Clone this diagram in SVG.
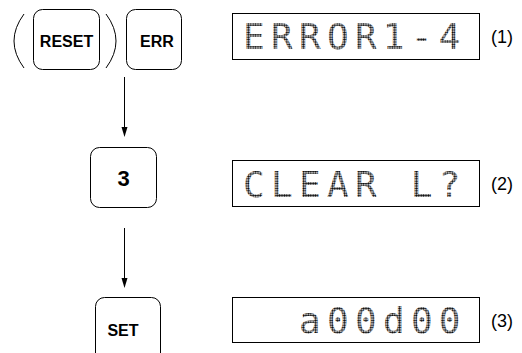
<svg xmlns="http://www.w3.org/2000/svg" width="522" height="353" viewBox="0 0 522 353">
<style>
.key{fill:#fff;stroke:#000;stroke-width:1}
.klab{font-family:"Liberation Sans",Arial,sans-serif;font-weight:bold;font-size:16px;text-anchor:middle;fill:#000}
.disp{fill:#fff;stroke:#000;stroke-width:1}
.lcd{font-family:"DejaVu Sans Mono",monospace;font-size:36px;fill:url(#dots);letter-spacing:6.3px}
.num{font-family:"Liberation Sans",Arial,sans-serif;font-size:18px;fill:#000}
.paren{fill:none;stroke:#000;stroke-width:1}
</style>
<defs>
<pattern id="dots" width="2.4" height="2.4" patternUnits="userSpaceOnUse">
<rect width="2.4" height="2.4" fill="#fff"/>
<circle cx="1.2" cy="1.2" r="1.05" fill="#000"/>
</pattern>
</defs>
<g id="key-reset">
<path class="paren" d="M24,14 Q4,41 24,68"/>
<rect class="key" x="33.5" y="9.5" width="66" height="60" rx="9"/>
<text class="klab" x="66.5" y="47">RESET</text>
<path class="paren" d="M106,14 Q126,41 106,68"/>
</g>
<g id="key-err">
<rect class="key" x="126.5" y="9.5" width="55" height="60" rx="9"/>
<text class="klab" x="157" y="47">ERR</text>
</g>
<g id="key-3">
<rect class="key" x="90.5" y="147.5" width="66" height="60" rx="9"/>
<text class="klab" x="123.5" y="186" style="font-size:22px">3</text>
</g>
<g id="key-set">
<rect class="key" x="95.5" y="297.5" width="65" height="70" rx="9"/>
<text class="klab" x="123" y="336">SET</text>
</g>
<g id="display-1">
<rect class="disp" x="232.5" y="13.5" width="247" height="46"/>
<text class="lcd" x="243" y="49">ERROR1-4</text>
<text class="num" x="491" y="43">(1)</text>
</g>
<g id="display-2">
<rect class="disp" x="232.5" y="160.5" width="247" height="46"/>
<text class="lcd" x="243" y="197">CLEAR L?</text>
<text class="num" x="491" y="190">(2)</text>
</g>
<g id="display-3">
<rect class="disp" x="232.5" y="297.5" width="247" height="45"/>
<text class="lcd" x="299" y="333">a00d00</text>
<text class="num" x="491" y="327">(3)</text>
</g>
<g id="connectors">
<line x1="124.5" y1="77" x2="124.5" y2="128" stroke="#000"/>
<path d="M121.5,127 L127.5,127 L124.5,137 Z" fill="#000"/>
<line x1="124.5" y1="228" x2="124.5" y2="279" stroke="#000"/>
<path d="M121.5,278 L127.5,278 L124.5,288 Z" fill="#000"/>
</g>
</svg>
